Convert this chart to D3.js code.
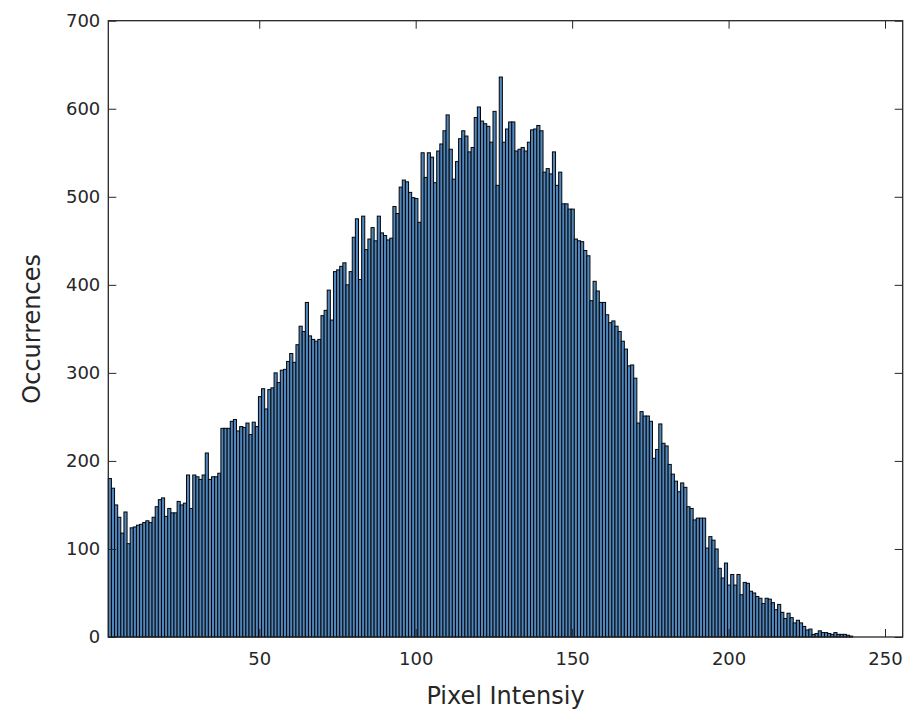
<!DOCTYPE html>
<html>
<head>
<meta charset="utf-8">
<script src="https://cdn.jsdelivr.net/npm/d3@7"></script>
<style>
  html, body { margin: 0; padding: 0; background: #fff; }
  svg { display: block; }
  text { font-family: "DejaVu Sans", sans-serif; fill: #262626; }
</style>
</head>
<body>
<svg id="chart" width="913" height="710"></svg>
<script>
// Histogram of pixel intensities: one bin per grey level, 2..255
const intensityRange = [1.76, 255.65];
const counts = [
  180,169,150,136,118,142,106,124,125,127,
  128,130,132,130,136,148,156,158,137,146,
  141,141,154,150,152,184,146,184,182,179,
  184,209,179,182,182,186,237,237,237,245,
  247,234,239,238,243,230,244,239,273,282,
  259,281,283,300,289,303,304,313,322,312,
  332,353,347,380,342,338,336,338,365,371,
  394,360,415,417,421,425,400,415,454,475,
  406,478,440,452,465,450,478,459,456,451,
  453,489,481,511,519,517,505,499,498,471,
  550,522,550,545,516,552,560,575,593,554,
  520,540,566,575,569,551,556,590,602,586,
  583,580,562,597,513,636,562,577,585,585,
  552,554,556,552,562,576,577,581,575,528,
  532,526,551,513,528,492,492,486,486,452,
  450,449,439,433,382,404,393,380,380,366,
  357,359,353,347,336,327,308,309,294,243,
  256,251,251,245,203,213,242,220,217,196,
  185,177,165,175,170,148,146,133,135,135,
  135,101,114,110,100,78,67,84,59,71,
  59,71,48,62,61,52,50,46,44,38,
  44,43,39,31,37,28,21,27,22,16,
  19,16,12,8,9,3,4,7,5,5,
  4,3,5,3,3,3,2,1,0,0,
  0,0,0,0,0,0,0,0,0,0,
  0,0,0,0
];
const xTicks = [50, 100, 150, 200, 250];
const yTicks = [0, 100, 200, 300, 400, 500, 600, 700];
const yMax = 700;
const xLabel = "Pixel Intensiy";
const yLabel = "Occurrences";

const binWidth = (intensityRange[1] - intensityRange[0]) / counts.length;
const bins = counts.map((c, i) => ({
  x0: intensityRange[0] + i * binWidth,
  x1: intensityRange[0] + (i + 1) * binWidth,
  count: c
}));

const svg = d3.select("#chart");
const plot = { left: 108.3, right: 902.7, top: 20.7, bottom: 637 };

const x = d3.scaleLinear().domain(intensityRange).range([plot.left, plot.right]);
const y = d3.scaleLinear().domain([0, yMax]).range([plot.bottom, plot.top]);

svg.append("rect").attr("width", 913).attr("height", 710).attr("fill", "#fff");

// bars
svg.append("g")
  .selectAll("rect")
  .data(bins.filter(d => d.count > 0))
  .join("rect")
  .attr("x", d => x(d.x0))
  .attr("width", d => x(d.x1) - x(d.x0))
  .attr("y", d => y(d.count))
  .attr("height", d => y(0) - y(d.count))
  .attr("fill", "#4f86bd")
  .attr("stroke", "#050505")
  .attr("stroke-width", 1);

const tickLen = 8;
const fontSize = 18;

function styleAxis(g, showLabels) {
  g.select(".domain").remove();
  g.selectAll(".tick line").attr("stroke", "#262626").attr("stroke-width", 1);
  g.selectAll(".tick text")
    .style("font-size", fontSize + "px")
    .attr("fill", "#262626");
  if (!showLabels) g.selectAll(".tick text").remove();
}

svg.append("g")
  .attr("transform", `translate(0,${plot.bottom})`)
  .call(d3.axisBottom(x).tickValues(xTicks).tickSize(-tickLen).tickPadding(15))
  .call(g => styleAxis(g, true));

svg.append("g")
  .attr("transform", `translate(0,${plot.top})`)
  .call(d3.axisTop(x).tickValues(xTicks).tickSize(-tickLen))
  .call(g => styleAxis(g, false));

svg.append("g")
  .attr("transform", `translate(${plot.left},0)`)
  .call(d3.axisLeft(y).tickValues(yTicks).tickSize(-tickLen).tickPadding(8))
  .call(g => styleAxis(g, true));

svg.append("g")
  .attr("transform", `translate(${plot.right},0)`)
  .call(d3.axisRight(y).tickValues(yTicks).tickSize(-tickLen))
  .call(g => styleAxis(g, false));

// frame
svg.append("rect")
  .attr("x", plot.left).attr("y", plot.top)
  .attr("width", plot.right - plot.left).attr("height", plot.bottom - plot.top)
  .attr("fill", "none").attr("stroke", "#262626").attr("stroke-width", 1.3);

// axis titles
svg.append("text")
  .attr("x", (plot.left + plot.right) / 2)
  .attr("y", 704)
  .attr("text-anchor", "middle")
  .style("font-size", "24px")
  .text(xLabel);

svg.append("text")
  .attr("transform", `translate(40,${(plot.top + plot.bottom) / 2}) rotate(-90)`)
  .attr("text-anchor", "middle")
  .style("font-size", "24px")
  .text(yLabel);
</script>
</body>
</html>
